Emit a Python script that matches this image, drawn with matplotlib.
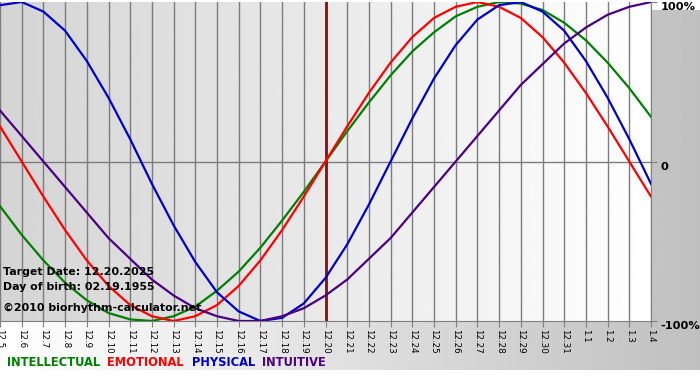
import numpy as np
import matplotlib
matplotlib.use("Agg")
import matplotlib.pyplot as plt
import matplotlib.transforms as mtransforms

# days shown on the x axis (month.day)
days = ["12.5", "12.6", "12.7", "12.8", "12.9", "12.10", "12.11", "12.12", "12.13", "12.14",
        "12.15", "12.16", "12.17", "12.18", "12.19", "12.20", "12.21", "12.22", "12.23", "12.24",
        "12.25", "12.26", "12.27", "12.28", "12.29", "12.30", "12.31", "1.1", "1.2", "1.3", "1.4"]
target_day = "12.20"

# values, one per day (-1 .. 1)
physical = [0.98, 1.00, 0.94, 0.82, 0.63, 0.40, 0.14, -0.14, -0.40, -0.63, -0.82, -0.94, -1.00, -0.98, -0.89,
            -0.73, -0.52, -0.27, 0.00, 0.27, 0.52, 0.73, 0.89, 0.98, 1.00, 0.94, 0.82, 0.63, 0.40, 0.14, -0.14]
emotional = [0.22, 0.00, -0.22, -0.43, -0.62, -0.78, -0.90, -0.97, -1.00, -0.97, -0.90, -0.78, -0.62, -0.43, -0.22,
             0.00, 0.22, 0.43, 0.62, 0.78, 0.90, 0.97, 1.00, 0.97, 0.90, 0.78, 0.62, 0.43, 0.22, 0.00, -0.22]
intellectual = [-0.28, -0.46, -0.62, -0.76, -0.87, -0.95, -0.99, -1.00, -0.97, -0.91, -0.81, -0.69, -0.54, -0.37, -0.19,
                0.00, 0.19, 0.37, 0.54, 0.69, 0.81, 0.91, 0.97, 1.00, 0.99, 0.95, 0.87, 0.76, 0.62, 0.46, 0.28]
intuitive = [0.32, 0.16, 0.00, -0.16, -0.32, -0.48, -0.61, -0.74, -0.84, -0.92, -0.97, -1.00, -1.00, -0.97, -0.92,
             -0.84, -0.74, -0.61, -0.48, -0.32, -0.16, 0.00, 0.16, 0.32, 0.48, 0.61, 0.74, 0.84, 0.92, 0.97, 1.00]

series = [("INTELLECTUAL", intellectual, "#008000"),
          ("EMOTIONAL", emotional, "#ff0000"),
          ("PHYSICAL", physical, "#0000cc"),
          ("INTUITIVE", intuitive, "#4b0082")]
legend_x = [7, 107, 192, 262]
info_lines = ["Target Date: 12.20.2025", "Day of birth: 02.19.1955", "\u00a92010 biorhythm-calculator.net"]
info_y = [272, 287, 308]

W, H = 700, 380
fig = plt.figure(figsize=(W / 100, H / 100), dpi=100)
fig.patch.set_facecolor("white")

# background band (white -> grey, left to right)
bg = fig.add_axes([0, 10 / H, 1, 360 / H])
bg.imshow(np.linspace(255, 192, 256)[None, :], cmap="gray", vmin=0, vmax=255, aspect="auto")
bg.axis("off")

ax = fig.add_axes([0, 1 - 321 / H, 651 / W, 319 / H])
x = np.arange(len(days))
ax.imshow(np.linspace(212, 255, 256)[None, :], cmap="gray", vmin=0, vmax=255, aspect="auto",
          extent=[0, len(days) - 1, -1, 1], zorder=0)

for xi in x:
    ax.axvline(xi, color="#7c7c7c", lw=1, zorder=1)
ax.axhline(0, color="#7c7c7c", lw=1, zorder=1)

ax.axvline(days.index(target_day), color="#7a1414", lw=2, zorder=2)

for name, vals, col in series:
    ax.plot(x, vals, color=col, lw=1.6, zorder=3)

ax.set_xlim(0, len(days) - 1)
ax.set_ylim(-1, 1)
ax.set_xticks(x)
ax.set_xticklabels(days, rotation=-90, fontsize=6.3)
ax.tick_params(axis="x", length=4, color="#808080", pad=2)
ax.yaxis.tick_right()
ax.set_yticks([-1, 0, 1])
ax.set_yticklabels(["-100%", "0", "100%"], fontsize=8.2, fontweight="bold")
ax.tick_params(axis="y", length=4, color="#808080", pad=3)
shift = mtransforms.ScaledTranslation(0, -4 / 100, fig.dpi_scale_trans)
for lab in ax.get_yticklabels():
    lab.set_transform(lab.get_transform() + shift)
for s in ["top", "left"]:
    ax.spines[s].set_visible(False)
for s in ["bottom", "right"]:
    ax.spines[s].set_color("#808080")

for t, yy in zip(info_lines, info_y):
    fig.text(3 / W, 1 - yy / H, t, fontsize=7.9, fontweight="bold", va="center", ha="left")

for (name, vals, col), lx in zip(series, legend_x):
    fig.text(lx / W, 1 - 362 / H, name, color=col, fontsize=8.3, fontweight="bold", va="center", ha="left")

fig.savefig("out.png", dpi=100)
